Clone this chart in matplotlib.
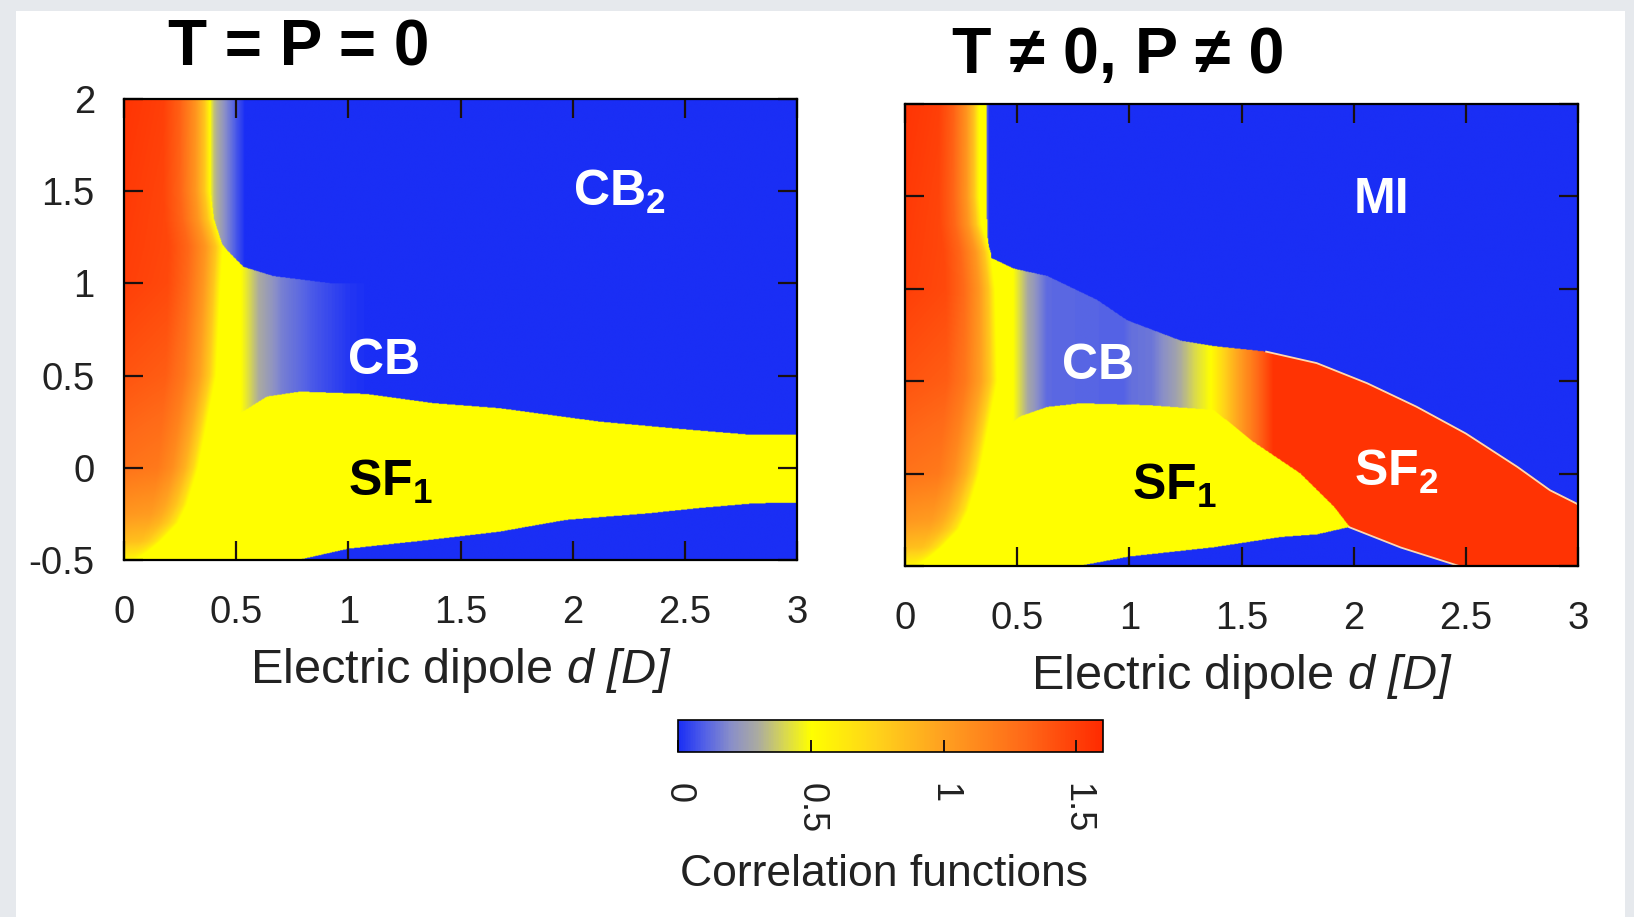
import numpy as np
import matplotlib
matplotlib.use('Agg')
import matplotlib.pyplot as plt
from matplotlib.colors import LinearSegmentedColormap
from matplotlib.patches import Rectangle

plt.rcParams['font.family'] = ['Liberation Sans', 'DejaVu Sans']
plt.rcParams['axes.unicode_minus'] = False
plt.rcParams['mathtext.fontset'] = 'custom'
plt.rcParams['mathtext.rm'] = 'Liberation Sans:italic'
plt.rcParams['mathtext.it'] = 'Liberation Sans:italic'
plt.rcParams['mathtext.bf'] = 'Liberation Sans:bold'

# axes / ticks
x_ticks = [0, 0.5, 1, 1.5, 2, 2.5, 3]
x_tick_labels = ['0', '0.5', '1', '1.5', '2', '2.5', '3']
y_ticks = [-0.5, 0, 0.5, 1, 1.5, 2]
y_tick_labels = ['-0.5', '0', '0.5', '1', '1.5', '2']
cbar_ticks = [0, 0.5, 1, 1.5]
cbar_tick_labels = ['0', '0.5', '1', '1.5']
cbar_max = 1.6

# palette (value -> colour)
palette_vals = [0.0, 0.1, 0.2, 0.3, 0.4, 0.5, 0.75, 1.0, 1.3, 1.6]
palette_cols = ['#1a2ef5', '#5462e6', '#8a8fc8', '#ababa0', '#d8d850',
                '#ffff00', '#ffd21a', '#ffa020', '#ff6a18', '#ff2a00']

# left red strip: shape along d (fraction of width -> fraction of edge value)
strip_t = [0, 0.45, 0.65, 0.82, 0.93, 1.0]
strip_g = [1, 0.95, 0.8, 0.55, 0.3, 0]
edge_y = [-0.5, -0.4, -0.25, 0, 0.5, 1, 2]
edge_v = [0.55, 0.85, 1.05, 1.25, 1.4, 1.5, 1.55]

# ---- T = P = 0 ----
L_strip_y = [-0.5, -0.45, -0.4, -0.3, -0.2, 0.0, 0.25, 0.5, 1.0, 1.2, 1.35, 1.5, 2.0]
L_strip_w = [0.05, 0.11, 0.16, 0.24, 0.28, 0.33, 0.37, 0.41, 0.43, 0.44, 0.40, 0.385, 0.385]
L_top_d = [0, 0.38, 0.40, 0.45, 0.50, 0.54, 3]
L_top_v = [0.5, 0.5, 0.35, 0.2, 0.08, 0, 0]
L_up_d = [0, 0.37, 0.384, 0.42, 0.459, 0.532, 0.666, 0.93, 3.0]
L_up_y = [2.5, 2.5, 1.31, 1.24, 1.18, 1.09, 1.04, 1.0, 1.0]
L_mid_d = [0, 0.52, 0.6, 0.7, 0.85, 1.0, 1.1, 3]
L_mid_v = [0.5, 0.5, 0.3, 0.17, 0.08, 0.02, 0, 0]
L_sftop_d = [0, 0.45, 0.518, 0.636, 0.784, 1.08, 1.38, 1.673, 2.12, 2.53, 2.8, 3.0]
L_sftop_y = [0.2, 0.25, 0.296, 0.386, 0.413, 0.40, 0.35, 0.323, 0.25, 0.205, 0.178, 0.18]
L_sfbot_d = [0, 0.7, 0.78, 1.0, 1.38, 1.673, 1.97, 2.34, 2.56, 2.81, 3.0]
L_sfbot_y = [-0.6, -0.52, -0.5, -0.44, -0.39, -0.348, -0.284, -0.248, -0.22, -0.194, -0.19]

# ---- T != 0, P != 0 ----
R_strip_y = [-0.5, -0.45, -0.4, -0.3, -0.2, 0.0, 0.25, 0.5, 1.0, 1.2, 1.35, 1.5, 2.0]
R_strip_w = [0.05, 0.11, 0.16, 0.24, 0.28, 0.33, 0.37, 0.41, 0.40, 0.38, 0.34, 0.33, 0.33]
R_top_d = [0, 0.33, 0.35, 0.365, 0.375, 3]
R_top_v = [0.5, 0.5, 0.3, 0.1, 0, 0]
R_up_d = [0, 0.36, 0.364, 0.379, 0.483, 0.632, 0.855, 0.988, 1.226, 1.375, 1.61,
          1.835, 2.06, 2.28, 2.50, 2.73, 2.875, 2.995, 3.0]
R_up_y = [2.5, 2.5, 1.30, 1.17, 1.11, 1.07, 0.94, 0.83, 0.72, 0.69, 0.66,
          0.598, 0.489, 0.362, 0.217, 0.036, -0.09, -0.163, -0.17]
R_mid_d = [0, 0.40, 0.48, 0.55, 0.63, 0.97, 1.0, 1.1, 1.2, 1.3, 1.36, 1.46, 1.53, 1.64, 3]
R_mid_v = [0.5, 0.5, 0.5, 0.28, 0.12, 0.1, 0.13, 0.15, 0.26, 0.42, 0.5, 0.9, 1.15, 1.55, 1.55]
R_sftop_d = [0, 0.45, 0.513, 0.632, 0.78, 1.077, 1.375, 1.54, 1.76, 1.91, 1.98, 2.05, 3]
R_sftop_y = [0.2, 0.25, 0.31, 0.36, 0.38, 0.37, 0.344, 0.18, 0.0, -0.18, -0.29, -0.7, -0.7]
R_sfbot_d = [0, 0.7, 0.78, 1.0, 1.375, 1.67, 1.835, 1.98, 2.21, 2.47, 2.6, 3]
R_sfbot_y = [-0.6, -0.52, -0.5, -0.45, -0.40, -0.345, -0.33, -0.29, -0.40, -0.5, -0.6, -0.6]

dd = np.linspace(0, 3, 900)
yy = np.linspace(-0.5, 2, 750)
D, Y = np.meshgrid(dd, yy)


def build_field(strip_y, strip_w, top_d, top_v, up_d, up_y, mid_d, mid_v,
                sftop_d, sftop_y, sfbot_d, sfbot_y):
    w = np.interp(Y, strip_y, strip_w)
    edge = np.interp(Y, edge_y, edge_v)
    t = D / w
    strip = 0.5 + (edge - 0.5) * np.interp(t, strip_t, strip_g)
    yup = np.interp(D, up_d, up_y)
    ytop = np.interp(D, sftop_d, sftop_y)
    ybot = np.interp(D, sfbot_d, sfbot_y)
    z = np.where(Y > yup, np.interp(D, top_d, top_v),
                 np.where(Y < ybot, 0.0,
                          np.where(Y > ytop, np.interp(D, mid_d, mid_v), 0.5)))
    return np.where(t < 1, strip, z)


zL = build_field(L_strip_y, L_strip_w, L_top_d, L_top_v, L_up_d, L_up_y, L_mid_d, L_mid_v,
                 L_sftop_d, L_sftop_y, L_sfbot_d, L_sfbot_y)
zR = build_field(R_strip_y, R_strip_w, R_top_d, R_top_v, R_up_d, R_up_y, R_mid_d, R_mid_v,
                 R_sftop_d, R_sftop_y, R_sfbot_d, R_sfbot_y)

cmap = LinearSegmentedColormap.from_list(
    'corr', list(zip(np.array(palette_vals) / cbar_max, palette_cols)))

fig = plt.figure(figsize=(16.34, 9.17), dpi=100, facecolor='#e6e9ed')
fig.patches.append(Rectangle((16 / 1634, 0), 1609 / 1634, 906 / 917,
                             transform=fig.transFigure, facecolor='white',
                             edgecolor='none', zorder=-1))

ax1 = fig.add_axes([124 / 1634, 357 / 917, 673 / 1634, 461 / 917])
ax2 = fig.add_axes([905 / 1634, 351 / 917, 673 / 1634, 462 / 917])

for ax, z in ((ax1, zL), (ax2, zR)):
    im = ax.imshow(z, extent=[0, 3, -0.5, 2], origin='lower', aspect='auto',
                   cmap=cmap, vmin=0, vmax=cbar_max, interpolation='bilinear')
    ax.set_xlim(0, 3)
    ax.set_ylim(-0.5, 2)
    ax.set_xticks(x_ticks)
    ax.set_xticklabels(x_tick_labels)
    ax.set_yticks(y_ticks)
    ax.tick_params(direction='in', length=14, width=1.6, top=True, right=True,
                   labelsize=27.5, color='#1a1010', labelcolor='#222222')
    ax.tick_params(axis='x', pad=25)
    ax.tick_params(axis='y', pad=21)
    for s in ax.spines.values():
        s.set_linewidth(1.6)
    ax.set_xlabel('Electric dipole $d\\ [D]$', fontsize=35, labelpad=11, color='#222222')

ax1.set_yticklabels(y_tick_labels)
ax2.set_yticklabels([])

# pale rim round SF2
sel = np.array(R_up_d) >= 1.5
ax2.plot(np.array(R_up_d)[sel], np.array(R_up_y)[sel], color='#ffd9b0', lw=1.3)
ax2.plot(R_sfbot_d[7:10], R_sfbot_y[7:10], color='#ffd9b0', lw=1.3)

lab = dict(fontsize=36, fontweight='bold', ha='left', va='baseline')
ax1.text(2.0, 1.42, 'CB$_\\mathbf{2}$', color='white', **lab)
ax1.text(1.0, 0.51, 'CB', color='white', **lab)
ax1.text(1.0, -0.15, 'SF$_\\mathbf{1}$', color='black', **lab)
ax2.text(2.0, 1.41, 'MI', color='white', **lab)
ax2.text(0.70, 0.51, 'CB', color='white', **lab)
ax2.text(1.01, -0.145, 'SF$_\\mathbf{1}$', color='black', **lab)
ax2.text(2.0, -0.065, 'SF$_\\mathbf{2}$', color='white', **lab)

fig.text(168 / 1634, 1 - 65 / 917, 'T = P = 0', fontsize=46, fontweight='bold',
         ha='left', va='baseline')
fig.text(952 / 1634, 1 - 73 / 917, 'T \u2260 0, P \u2260 0', fontsize=46.5, fontweight='bold',
         ha='left', va='baseline')

cax = fig.add_axes([678 / 1634, 165 / 917, 425 / 1634, 32 / 917])
cb = fig.colorbar(im, cax=cax, orientation='horizontal', ticks=cbar_ticks)
cax.set_xticklabels(cbar_tick_labels, rotation=-90)
cax.tick_params(direction='in', length=9, width=1.4, pad=22, labelsize=26,
                color='#1a1010', labelcolor='#222222')
cb.outline.set_linewidth(1.2)
cb.set_label('Correlation functions', fontsize=32, color='#222222')
cax.xaxis.set_label_coords(0.485, -3.18)

fig.savefig('out.png', dpi=100, facecolor=fig.get_facecolor())
